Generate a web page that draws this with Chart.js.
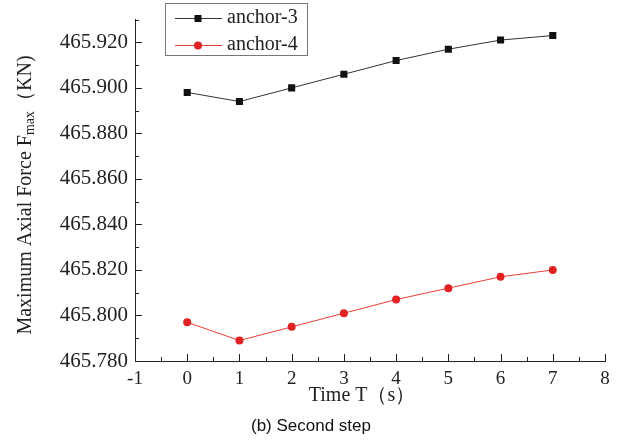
<!DOCTYPE html>
<html>
<head>
<meta charset="utf-8">
<script src="https://cdn.jsdelivr.net/npm/chart.js@4"></script>
<style>
  html, body { margin: 0; padding: 0; background: #fff; }
  #wrap { position: relative; width: 622px; height: 441px; }
</style>
</head>
<body>
<div id="wrap"><canvas id="chart" width="622" height="441"></canvas></div>
<script>
// Datos
const times = [0, 1, 2, 3, 4, 5, 6, 7];
const anchor3 = [465.898, 465.894, 465.900, 465.906, 465.912, 465.917, 465.921, 465.923];
const anchor4 = [465.797, 465.789, 465.795, 465.801, 465.807, 465.812, 465.817, 465.820];
const xTicks = [-1, 0, 1, 2, 3, 4, 5, 6, 7, 8];
const yTicks = [465.780, 465.800, 465.820, 465.840, 465.860, 465.880, 465.900, 465.920];

const SERIF = "'Liberation Serif', 'Times New Roman', serif";
Chart.defaults.font.family = SERIF;

// Ticks hacia dentro, títulos de ejes, leyenda y pie
const decorations = {
    id: 'decorations',
    afterDraw(chart) {
        const ctx = chart.ctx;
        const x = chart.scales.x, y = chart.scales.y;
        const area = chart.chartArea;
        ctx.save();
        ctx.strokeStyle = '#222';
        ctx.lineWidth = 1;
        ctx.beginPath();
        for (let i = 0; i < xTicks.length; i++) {
            const px = Math.round(x.getPixelForValue(xTicks[i])) + 0.5;
            ctx.moveTo(px, area.bottom); ctx.lineTo(px, area.bottom - 7);
            if (i < xTicks.length - 1) {
                const pm = Math.round(x.getPixelForValue(xTicks[i] + 0.5)) + 0.5;
                ctx.moveTo(pm, area.bottom); ctx.lineTo(pm, area.bottom - 4);
            }
        }
        for (let i = 0; i < yTicks.length; i++) {
            const py = Math.round(y.getPixelForValue(yTicks[i])) + 0.5;
            ctx.moveTo(area.left, py); ctx.lineTo(area.left + 7, py);
            const pm = Math.round(y.getPixelForValue(yTicks[i] + 0.01)) + 0.5;
            ctx.moveTo(area.left, pm); ctx.lineTo(area.left + 4, pm);
        }
        ctx.stroke();

        // Título del eje Y con subíndice
        ctx.fillStyle = '#222';
        ctx.translate(26, 195);
        ctx.rotate(-Math.PI / 2);
        ctx.textBaseline = 'middle';
        const big = '20px ' + SERIF, small = '14px ' + SERIF;
        const parts = [['Maximum Axial Force F', big, 0], ['max', small, 4], ['\uFF08KN)', big, 0]];
        let total = 0;
        parts.forEach(p => { ctx.font = p[1]; total += ctx.measureText(p[0]).width; });
        let cx = -total / 2;
        ctx.textAlign = 'left';
        parts.forEach(p => {
            ctx.font = p[1];
            ctx.fillText(p[0], cx, p[2]);
            cx += ctx.measureText(p[0]).width;
        });
        ctx.restore();

        ctx.save();
        // Título del eje X
        ctx.fillStyle = '#222';
        ctx.font = '20px ' + SERIF;
        ctx.textAlign = 'center';
        ctx.textBaseline = 'middle';
        ctx.fillText('Time T\uFF08s\uFF09', 362, 396);

        // Pie de figura
        ctx.font = '17px "Liberation Sans", Arial, sans-serif';
        ctx.fillStyle = '#111';
        ctx.fillText('(b) Second step', 311, 426);

        // Leyenda con recuadro
        ctx.strokeStyle = '#777';
        ctx.strokeRect(165.5, 3.5, 142, 52);
        chart.data.datasets.forEach((ds, i) => {
            const ly = 18 + i * 27;
            ctx.strokeStyle = ds.borderColor;
            ctx.lineWidth = 1;
            ctx.beginPath();
            ctx.moveTo(175, ly + 0.5); ctx.lineTo(222, ly + 0.5);
            ctx.stroke();
            ctx.fillStyle = ds.pointBackgroundColor;
            ctx.beginPath();
            if (ds.pointStyle === 'rect') {
                ctx.rect(194.5, ly - 3, 7, 7);
            } else {
                ctx.arc(198, ly + 0.5, 4, 0, Math.PI * 2);
            }
            ctx.fill();
            ctx.fillStyle = '#222';
            ctx.font = '20px ' + SERIF;
            ctx.textAlign = 'left';
            ctx.fillText(ds.label, 227, ly);
        });
        ctx.restore();
    }
};

const ctx = document.getElementById('chart').getContext('2d');
new Chart(ctx, {
    type: 'scatter',
    data: {
        datasets: [{
            label: 'anchor-3',
            data: times.map((t, i) => ({ x: t, y: anchor3[i] })),
            showLine: true,
            borderColor: '#333333',
            borderWidth: 1,
            pointStyle: 'rect',
            pointRadius: 5,
            pointBackgroundColor: '#111111',
            pointBorderColor: '#111111',
            pointBorderWidth: 0
        }, {
            label: 'anchor-4',
            data: times.map((t, i) => ({ x: t, y: anchor4[i] })),
            showLine: true,
            borderColor: '#e8403a',
            borderWidth: 1,
            pointStyle: 'circle',
            pointRadius: 4,
            pointBackgroundColor: '#e02222',
            pointBorderColor: '#e02222',
            pointBorderWidth: 0
        }]
    },
    options: {
        responsive: false,
        animation: false,
        layout: { padding: { top: 12, right: 17, left: 0, bottom: 0 } },
        plugins: {
            legend: { display: false },
            tooltip: { enabled: false }
        },
        scales: {
            x: {
                type: 'linear',
                min: -1, max: 8,
                afterBuildTicks: s => { s.ticks = xTicks.map(v => ({ value: v })); },
                afterFit: s => { s.height = 80; },
                grid: { display: false, drawTicks: false },
                border: { display: true, color: '#222', width: 1 },
                ticks: {
                    padding: 7,
                    color: '#222',
                    font: { family: SERIF, size: 19 },
                    callback: v => String(v)
                }
            },
            y: {
                type: 'linear',
                min: 465.780, max: 465.930,
                afterBuildTicks: s => { s.ticks = yTicks.map(v => ({ value: v })); },
                afterFit: s => { s.width = 135; },
                grid: { display: false, drawTicks: false },
                border: { display: true, color: '#222', width: 1 },
                ticks: {
                    padding: 7,
                    color: '#222',
                    font: { family: SERIF, size: 21 },
                    callback: v => Number(v).toFixed(3)
                }
            }
        }
    },
    plugins: [decorations]
});
</script>
</body>
</html>
